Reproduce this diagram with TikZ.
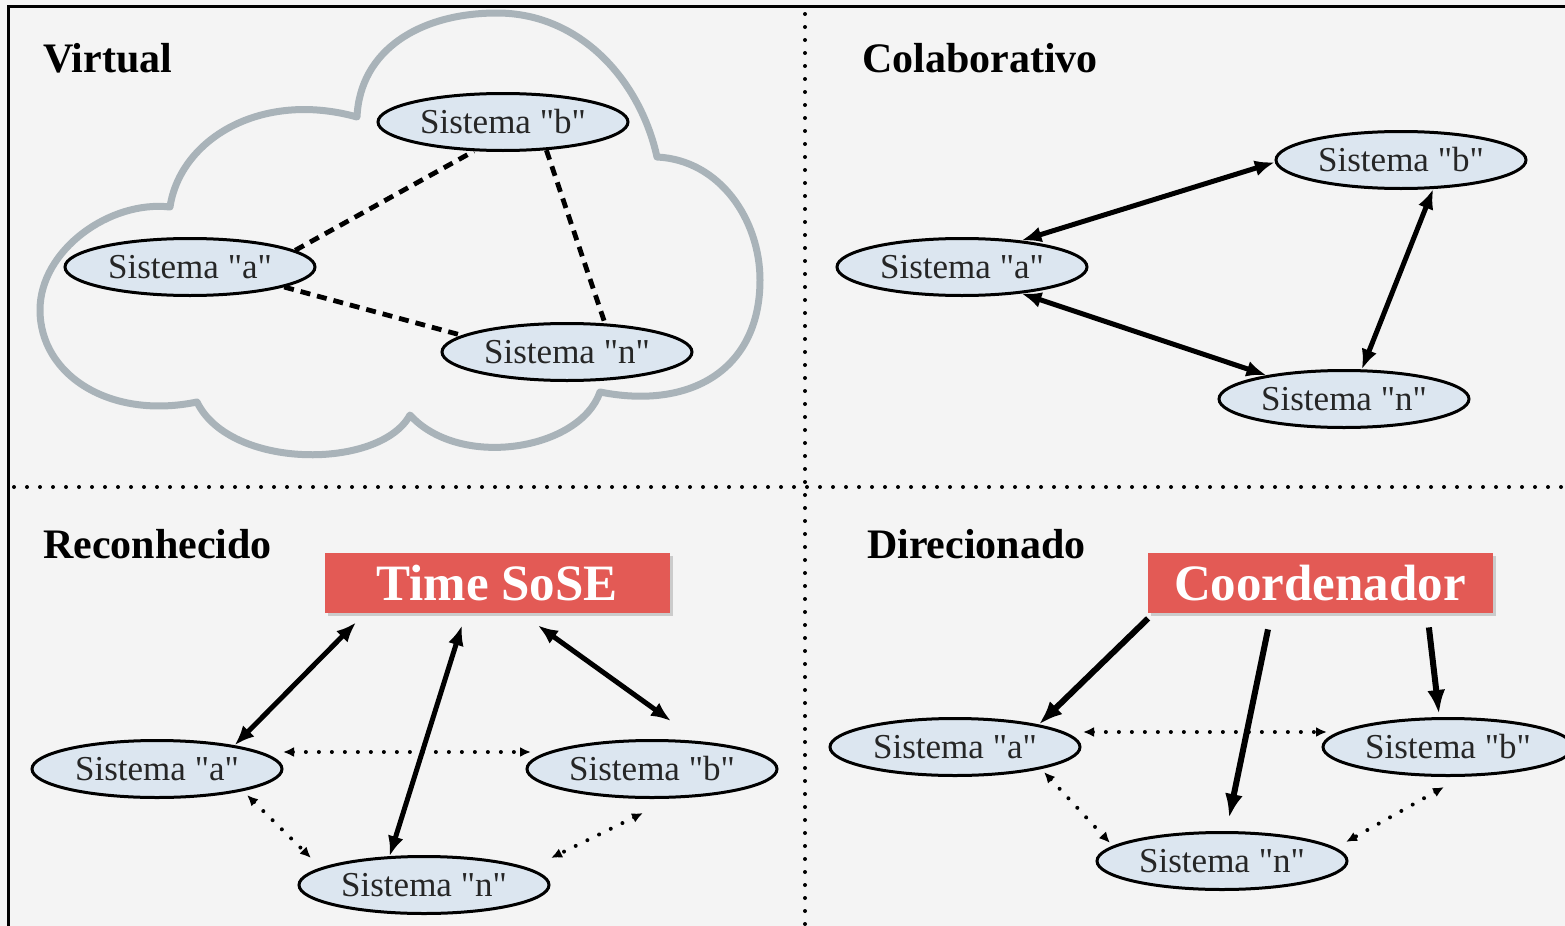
\documentclass[tikz,border=0pt]{standalone}
\usepackage{fontspec}
\setmainfont{Liberation Serif}[Ligatures=TeXOff]
\usetikzlibrary{arrows.meta,shapes.geometric,shadows}

\definecolor{paper}{HTML}{F4F4F4}
\definecolor{cloudgray}{HTML}{A9B3B9}
\definecolor{sysfill}{HTML}{DCE6F0}
\definecolor{boxred}{HTML}{E35A55}

\tikzset{
  sys/.style={ellipse, draw=black, line width=1.5pt, fill=sysfill, text=black!85,
    minimum width=125pt, minimum height=28.5pt, inner sep=0pt,
    font=\fontsize{17.5}{20}\selectfont},
  modelname/.style={anchor=base west, font=\bfseries\fontsize{21}{24}\selectfont},
  teambox/.style={rectangle, fill=boxred, text=white, minimum width=172.5pt,
    minimum height=30pt, inner sep=0pt, font=\bfseries\fontsize{25.5}{28}\selectfont,
    drop shadow={shadow xshift=1.5pt, shadow yshift=-1.5pt, opacity=.35}},
  twoway/.style={draw, line width=2.5pt, {Latex[length=10pt,width=8pt]}-{Latex[length=10pt,width=8pt]}},
  oneway/.style={draw, line width=3pt, -{Latex[length=12pt,width=9pt]}},
  dotlink/.style={draw, line width=2pt, line cap=round, dash pattern=on 0pt off 6.5pt,
    {Latex[length=5.5pt,width=5pt]}-{Latex[length=5.5pt,width=5pt]}},
  dashlink/.style={draw, line width=2.4pt, dash pattern=on 5pt off 3.5pt},
  divider/.style={line width=2pt, line cap=round, dash pattern=on 0pt off 6.5pt},
  cloudline/.style={draw=cloudgray, line width=3.5pt, line join=round}
}

\begin{document}
\begin{tikzpicture}[x=0.5pt,y=-0.5pt]
  \useasboundingbox (0,0) rectangle (1565,926);
  \fill[paper] (0,0) rectangle (1565,926);

  % frame and quadrants
  \draw[line width=1.5pt] (8.5,926) -- (8.5,6.5) -- (1565,6.5);
  \draw[divider] (805,14) -- (805,926);
  \draw[divider] (14,487) -- (1565,487);

  \node[modelname] (virt) at (36,72) {Virtual};
  \node[modelname] (colab) at (855,72) {Colaborativo};
  \node[modelname] (recon) at (36,558) {Reconhecido};
  \node[modelname] (direc) at (860,558) {Direcionado};

  % Virtual
  \draw[cloudline] (170,207) .. controls (180,140) and (260,90) .. (357,117)
    .. controls (360,50) and (420,13) .. (497,13)
    .. controls (580,13) and (640,80) .. (657,157)
    .. controls (720,160) and (760,220) .. (760,280)
    .. controls (760,370) and (690,410) .. (600,392)
    .. controls (580,450) and (460,470) .. (410,415)
    .. controls (380,470) and (230,470) .. (197,402)
    .. controls (110,420) and (40,375) .. (40,310)
    .. controls (40,250) and (110,200) .. cycle;
  \begin{scope}[every node/.style={sys}]
    \node (Vb) at (503,122) {Sistema "b"};
    \node (Va) at (190,267) {Sistema "a"};
    \node (Vn) at (567,352) {Sistema "n"};
  \end{scope}
  \begin{scope}[every edge/.style={dashlink}]
    \path (Va.9) edge (Vb.225);
    \path (Va.-12) edge (Vn.171);
    \path (Vb.-33) edge (Vn.37);
  \end{scope}

  % Colaborativo
  \begin{scope}[every node/.style={sys}]
    \node (Cb) at (1401,160) {Sistema "b"};
    \node (Ca) at (962,267) {Sistema "a"};
    \node (Cn) at (1344,399) {Sistema "n"};
  \end{scope}
  \begin{scope}[every edge/.style={twoway}]
    \path (Ca.24) edge (Cb.181);
    \path (Ca.-24) edge (Cn.163);
    \path (Cb.-42) edge (Cn.59);
  \end{scope}

  % Reconhecido
  \node[teambox] (T) at (497,583) {Time SoSE};
  \begin{scope}[every node/.style={sys}]
    \node (Ra) at (157,769) {Sistema "a"};
    \node (Rb) at (652,769) {Sistema "b"};
    \node (Rn) at (424,885) {Sistema "n"};
  \end{scope}
  \begin{scope}[every edge/.style={twoway}]
    \path ([shift={(32,9)}]T.south west) edge (Ra.17);
    \path ([shift={(-35,12)}]T.south) edge (Rn.140);
    \path ([shift={(-132,12)}]T.south east) edge ([shift={(19,-18)}]Rb.north);
  \end{scope}
  \begin{scope}[every edge/.style={dotlink}]
    \path ([shift={(126,-17)}]Ra.center) edge ([shift={(-121,-17)}]Rb.center);
    \path ([shift={(90,26)}]Ra.center) edge ([shift={(-113,-27)}]Rn.center);
    \path ([shift={(-9,44)}]Rb.center) edge ([shift={(127,-27)}]Rn.center);
  \end{scope}

  % Direcionado
  \node[teambox] (Co) at (1320,583) {Coordenador};
  \begin{scope}[every node/.style={sys}]
    \node (Da) at (955,747) {Sistema "a"};
    \node (Db) at (1448,747) {Sistema "b"};
    \node (Dn) at (1222,861) {Sistema "n"};
  \end{scope}
  \begin{scope}[every edge/.style={oneway}]
    \path ([shift={(1,5)}]Co.south west) edge (Da.15);
    \path ([shift={(-52,16)}]Co.south) edge ([shift={(7,-13)}]Dn.north);
    \path ([shift={(-64,14)}]Co.south east) edge ([shift={(-9,-3)}]Db.north);
  \end{scope}
  \begin{scope}[every edge/.style={dotlink}]
    \path ([shift={(128,-15)}]Da.center) edge ([shift={(-121,-15)}]Db.center);
    \path ([shift={(89,25)}]Da.center) edge ([shift={(-112,-18)}]Dn.center);
    \path ([shift={(-4,40)}]Db.center) edge ([shift={(124,-19)}]Dn.center);
  \end{scope}
\end{tikzpicture}
\end{document}
